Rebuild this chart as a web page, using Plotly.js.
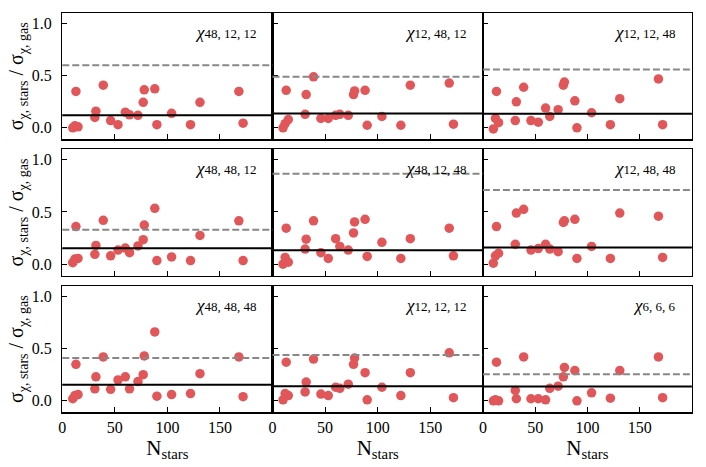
<!DOCTYPE html>
<html>
<head>
<meta charset="utf-8">
<script src="https://cdn.plot.ly/plotly-3.0.1.min.js"></script>
<style>html,body{margin:0;padding:0;background:#fff}</style>
</head>
<body>
<div id="plot" style="width:706px;height:467px"></div>
<script>
// number of stars per cluster (same for every panel)
const nStars = [10, 12, 13, 15, 31, 32, 39, 46, 53, 60, 64, 72, 77, 78, 88, 90, 104, 122, 131, 168, 172];

// sigma_chi,stars / sigma_chi,gas per panel
const chi_48_12_12 = [0.00, 0.02, 0.35, 0.01, 0.10, 0.16, 0.41, 0.07, 0.03, 0.15, 0.125, 0.12, 0.245, 0.365, 0.375, 0.03, 0.14, 0.03, 0.245, 0.35, 0.045];
const chi_12_48_12 = [0.00, 0.04, 0.36, 0.08, 0.13, 0.32, 0.49, 0.09, 0.09, 0.12, 0.13, 0.12, 0.32, 0.355, 0.36, 0.025, 0.11, 0.025, 0.41, 0.43, 0.035];
const chi_12_12_48 = [-0.01, 0.09, 0.35, 0.05, 0.07, 0.25, 0.39, 0.07, 0.055, 0.19, 0.11, 0.175, 0.41, 0.44, 0.26, 0.00, 0.145, 0.03, 0.28, 0.47, 0.03];
const chi_48_48_12 = [0.015, 0.05, 0.36, 0.055, 0.095, 0.18, 0.42, 0.08, 0.135, 0.155, 0.11, 0.175, 0.235, 0.375, 0.535, 0.035, 0.07, 0.035, 0.275, 0.415, 0.035];
const chi_48_12_48 = [0.00, 0.065, 0.345, 0.02, 0.145, 0.24, 0.415, 0.11, 0.055, 0.245, 0.17, 0.135, 0.30, 0.405, 0.43, 0.075, 0.21, 0.055, 0.245, 0.345, 0.08];
const chi_12_48_48 = [0.01, 0.08, 0.36, 0.105, 0.19, 0.49, 0.525, 0.135, 0.15, 0.19, 0.145, 0.12, 0.40, 0.415, 0.43, 0.055, 0.17, 0.055, 0.49, 0.46, 0.065];
const chi_48_48_48 = [0.02, 0.05, 0.35, 0.06, 0.115, 0.23, 0.42, 0.11, 0.20, 0.23, 0.115, 0.185, 0.25, 0.43, 0.66, 0.045, 0.06, 0.07, 0.26, 0.42, 0.04];
const chi_12_12_12 = [0.01, 0.07, 0.37, 0.05, 0.085, 0.18, 0.40, 0.065, 0.05, 0.13, 0.12, 0.16, 0.35, 0.41, 0.27, 0.01, 0.13, 0.05, 0.27, 0.46, 0.03];
const chi_6_6_6    = [0.00, 0.01, 0.37, 0.00, 0.10, 0.02, 0.42, 0.02, 0.02, 0.01, 0.12, 0.14, 0.23, 0.32, 0.29, 0.00, 0.077, 0.025, 0.29, 0.42, 0.03];

const panelLabels = ['48, 12, 12', '12, 48, 12', '12, 12, 48',
                     '48, 48, 12', '48, 12, 48', '12, 48, 48',
                     '48, 48, 48', '12, 12, 12', '6, 6, 6'];
const panelValues = [chi_48_12_12, chi_12_48_12, chi_12_12_48,
                     chi_48_48_12, chi_48_12_48, chi_12_48_48,
                     chi_48_48_48, chi_12_12_12, chi_6_6_6];

// horizontal reference levels (solid black, dashed grey)
const solidLevels = [0.12, 0.137, 0.135, 0.152, 0.134, 0.16, 0.154, 0.14, 0.137];
const dashLevels  = [0.60, 0.49, 0.56, 0.33, 0.865, 0.71, 0.41, 0.44, 0.255];

const xTicks = [0, 50, 100, 150];
const yTicks = [0, 0.5, 1.0];
const yTickText = ['0.0', '0.5', '1.0'];

///////////////////////////////////////////////////////////////////////////////
const serif = '"Liberation Serif"';
const pointColor = '#e15759';

const colDomains = [[0.0882, 0.386], [0.386, 0.684], [0.684, 0.980]];
const rowDomains = [[0.7017, 0.9715], [0.4096, 0.6803], [0.1171, 0.3876]];

let traces = [];
let shapes = [];
let annotations = [];
let layout = {
    width: 706, height: 467,
    margin: {l: 0, r: 0, t: 0, b: 0},
    paper_bgcolor: '#fff', plot_bgcolor: '#fff',
    showlegend: false,
    font: {family: serif, color: '#000'},
};

panelValues.forEach((vals, i) => {
    let row = Math.floor(i / 3);
    let col = i % 3;
    let sfx = i === 0 ? '' : String(i + 1);

    traces.push({
        type: 'scatter', mode: 'markers',
        x: nStars, y: vals,
        xaxis: 'x' + sfx, yaxis: 'y' + sfx,
        marker: {color: pointColor, size: 9.5},
        hoverinfo: 'x+y',
    });

    let xa = {
        domain: colDomains[col], anchor: 'y' + sfx,
        range: [0, 200], tickvals: xTicks,
        ticks: 'inside', ticklen: 5, tickwidth: 1, tickcolor: '#000',
        showticklabels: row === 2,
        tickfont: {family: serif, size: 16, color: '#000'},
        showline: true, mirror: true, linecolor: '#000', linewidth: 1.3,
        showgrid: false, zeroline: false,
    };
    if (row === 2) xa.title = {text: 'N<sub>stars</sub>', font: {family: serif, size: 21}, standoff: 3};
    layout['xaxis' + sfx] = xa;

    let ya = {
        domain: rowDomains[row], anchor: 'x' + sfx,
        range: [-0.11, 1.1], tickvals: yTicks, ticktext: yTickText,
        ticks: 'inside', ticklen: 5, tickwidth: 1, tickcolor: '#000',
        showticklabels: col === 0,
        tickfont: {family: serif, size: 16, color: '#000'},
        ticklabelstandoff: 6,
        showline: true, mirror: true, linecolor: '#000', linewidth: 1.3,
        showgrid: false, zeroline: false,
    };
    if (col === 0) ya.title = {text: 'σ<sub>χ, stars</sub> / σ<sub>χ, gas</sub>', font: {family: serif, size: 20}, standoff: 2};
    layout['yaxis' + sfx] = ya;

    shapes.push({
        type: 'line', xref: 'x' + sfx + ' domain', yref: 'y' + sfx,
        x0: 0, x1: 1, y0: dashLevels[i], y1: dashLevels[i],
        line: {color: '#888', width: 2, dash: '7px,3px'},
    });
    shapes.push({
        type: 'line', xref: 'x' + sfx + ' domain', yref: 'y' + sfx,
        x0: 0, x1: 1, y0: solidLevels[i], y1: solidLevels[i],
        line: {color: '#000', width: 2},
    });

    annotations.push({
        xref: 'x' + sfx + ' domain', yref: 'y' + sfx + ' domain',
        x: 0.93, y: 0.846, xanchor: 'right', yanchor: 'middle',
        showarrow: false,
        text: '<i>χ</i><span style="font-size:13px">' + panelLabels[i] + '</span>',
        font: {family: serif, size: 17, color: '#000'},
    });
});

layout.shapes = shapes;
layout.annotations = annotations;

Plotly.newPlot('plot', traces, layout, {staticPlot: true});
</script>
</body>
</html>
